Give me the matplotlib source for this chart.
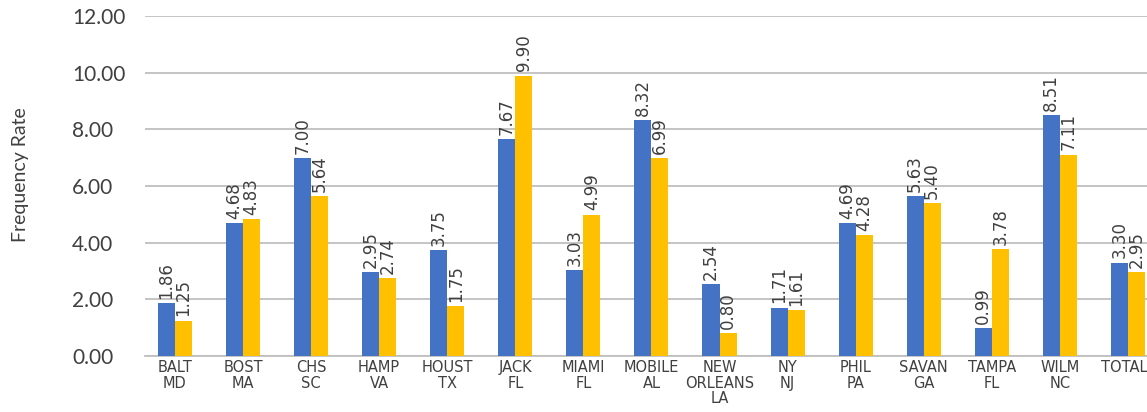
import matplotlib
matplotlib.use("Agg")
import matplotlib.pyplot as plt
import matplotlib.transforms as mtransforms
import numpy as np

# ports and their two frequency-rate series
ports = ["BALT\nMD", "BOST\nMA", "CHS\nSC", "HAMP\nVA", "HOUST\nTX", "JACK\nFL",
         "MIAMI\nFL", "MOBILE\nAL", "NEW\nORLEANS\nLA", "NY\nNJ", "PHIL\nPA",
         "SAVAN\nGA", "TAMPA\nFL", "WILM\nNC", "TOTAL"]
rate_a = [1.86, 4.68, 7.00, 2.95, 3.75, 7.67, 3.03, 8.32, 2.54, 1.71, 4.69, 5.63, 0.99, 8.51, 3.30]
rate_b = [1.25, 4.83, 5.64, 2.74, 1.75, 9.90, 4.99, 6.99, 0.80, 1.61, 4.28, 5.40, 3.78, 7.11, 2.95]
y_ticks = [0, 2, 4, 6, 8, 10, 12]

blue = "#4472C4"
gold = "#FFC000"
grid_col = "#BFBFBF"
text_col = "#404040"
narrow = ["Liberation Sans Narrow", "DejaVu Sans"]

fig = plt.figure(figsize=(11.47, 4.12), dpi=100)
ax = fig.add_axes([145 / 1147, 1 - 356 / 412, 1 - 145 / 1147, (356 - 16) / 412])

x = np.arange(len(ports))
w = 0.25
bars_a = ax.bar(x - w / 2, rate_a, w, color=blue, zorder=3)
bars_b = ax.bar(x + w / 2, rate_b, w, color=gold, zorder=3)

for bars in (bars_a, bars_b):
    labels = ax.bar_label(bars, fmt="%.2f", rotation=90, padding=3,
                          fontsize=12, color=text_col, family=narrow)
    for t in labels:
        t.set_clip_on(False)

ax.set_xlim(-0.44, 14.28)
ax.set_ylim(0, 12)
ax.set_yticks(y_ticks)
ax.set_yticklabels([f"{v:.2f}" for v in y_ticks], fontsize=15, color=text_col, family="Lato")
for lab in ax.get_yticklabels():
    lab.set_horizontalalignment("left")
ax.tick_params(axis="y", length=0, pad=52.5)

ax.set_xticks(x)
ax.set_xticklabels(ports, fontsize=10.5, color=text_col, family=narrow, linespacing=1.05)
ax.tick_params(axis="x", length=0, pad=3)
# nudge TOTAL left a touch so it stays inside the figure edge
last = ax.get_xticklabels()[-1]
last.set_transform(last.get_transform() + mtransforms.ScaledTranslation(-4 / 100, 0, fig.dpi_scale_trans))

ax.grid(axis="y", color=grid_col, linewidth=1.3, zorder=0)
for s in ["top", "right", "left"]:
    ax.spines[s].set_visible(False)
ax.spines["bottom"].set_color(grid_col)
ax.spines["bottom"].set_linewidth(1.3)

fig.text(21 / 1147, 1 - 175 / 412, "Frequency Rate", rotation=90, ha="center", va="center",
         fontsize=14, color=text_col, family="Lato")

fig.savefig("out.png", dpi=100)
